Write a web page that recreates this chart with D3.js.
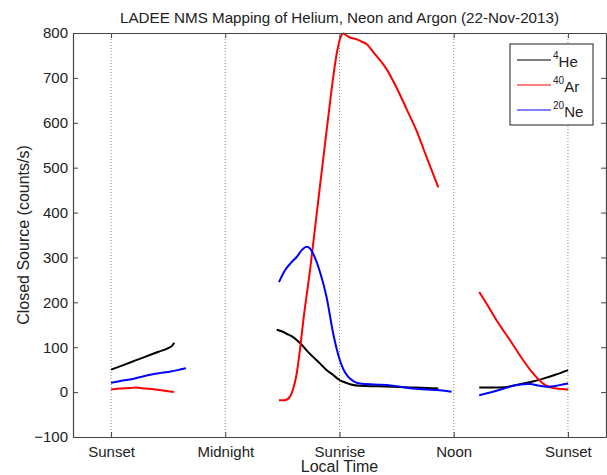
<!DOCTYPE html>
<html><head><meta charset="utf-8">
<script src="https://cdn.jsdelivr.net/npm/d3@7"></script>
<style>
html,body{margin:0;padding:0;background:#fff;}
svg text{font-family:Arial,"Liberation Sans",sans-serif;fill:#222;}
</style></head>
<body><svg id="c" width="607" height="475"></svg>
<script>
// Local time in hours (18 = sunset, 24 = midnight, 30 = sunrise, 36 = noon, 42 = sunset)
const xTickValues = [18, 24, 30, 36, 42];
const xTickLabels = ["Sunset", "Midnight", "Sunrise", "Noon", "Sunset"];
const yTickValues = [-100, 0, 100, 200, 300, 400, 500, 600, 700, 800];

// Each series is a list of segments; each segment a list of [hour, counts/s]
const he4 = [
  [[18.0,50],[18.5,58],[19.0,66],[19.5,74],[20.0,82],[20.5,90],[21.0,98],[21.2,103],[21.32,110]],
  [[26.70,139],[27.0,135],[27.22,130],[27.5,124],[27.75,116],[28.0,106],[28.27,93],[28.6,79],[28.97,64],[29.3,50],[29.67,38],[30.0,27],[30.2,23],[30.6,17],[31.07,14],[32.0,13],[32.82,12],[34.0,10],[35.19,8]],
  [[37.34,10],[38.0,10],[38.43,10.4],[39.0,13],[39.65,19],[40.2,24],[40.70,30],[41.3,38],[42.01,49]]
];
const ar40 = [
  [[18.0,6],[18.5,8],[19.0,9],[19.3,10],[19.8,8],[20.3,6],[20.8,3],[21.3,0]],
  [[26.82,-18],[27.13,-18],[27.40,-10],[27.57,8],[27.75,41],[27.92,93],[28.10,160],[28.45,271],[28.76,382],[29.32,582],[29.88,760],[30.02,786],[30.20,799],[30.35,795],[30.55,790],[30.90,786],[31.15,781],[31.43,775],[31.86,753],[32.48,719],[33.0,678],[33.53,630],[34.05,582],[34.58,523],[35.19,456]],
  [[37.34,223],[37.8,192],[38.25,160],[38.95,116],[39.65,71],[40.18,41],[40.70,19],[41.0,12],[41.40,8],[42.01,6]]
];
const ne20 = [
  [[18.0,21],[18.5,25],[19.0,28],[19.5,33],[20.0,38],[20.5,42],[21.0,45],[21.5,49],[21.93,53]],
  [[26.82,245],[27.13,271],[27.45,288],[27.75,301],[28.05,318],[28.27,324],[28.45,320],[28.62,308],[28.97,268],[29.32,212],[29.67,130],[30.02,71],[30.25,47],[30.46,34],[30.75,24],[31.07,19],[31.8,17],[32.48,16],[33.2,12],[33.87,8],[34.6,6],[35.27,4],[35.89,1]],
  [[37.34,-7],[37.8,-2],[38.25,3],[38.8,10],[39.30,16],[40.0,18],[40.5,14],[40.88,12],[41.5,15],[42.01,19]]
];
const seriesNames = ["He", "Ar", "Ne"];
const seriesMass = ["4", "40", "20"];
const seriesColors = ["#000000", "#ff0000", "#0000ff"];
const seriesData = [he4, ar40, ne20];

const svg = d3.select("#c");
const L = 73, R = 606, T = 33, B = 437;
const x = d3.scaleLinear().domain([16, 44]).range([L, R]);
const y = d3.scaleLinear().domain([-100, 800]).range([B, T]);
const axisColor = "#444";

// dotted grid at x ticks
svg.append("g").selectAll("line").data(xTickValues).join("line")
  .attr("x1", d => x(d)).attr("x2", d => x(d)).attr("y1", T).attr("y2", B)
  .attr("stroke", "#888").attr("stroke-width", 1).attr("stroke-dasharray", "1,2");

// data lines
const line = d3.line().x(d => x(d[0])).y(d => y(d[1])).curve(d3.curveMonotoneX);
seriesData.forEach((segs, i) => {
  svg.append("g").selectAll("path").data(segs).join("path")
    .attr("d", line).attr("fill", "none")
    .attr("stroke", seriesColors[i]).attr("stroke-width", 2).attr("stroke-linejoin", "round");
});

// axes (MATLAB style: inward ticks, box)
const fmtX = (d) => xTickLabels[xTickValues.indexOf(d)];
const gBottom = svg.append("g").attr("transform", `translate(0,${B})`)
  .call(d3.axisBottom(x).tickValues(xTickValues).tickFormat(fmtX).tickSizeInner(-5).tickSizeOuter(0).tickPadding(9));
const gTop = svg.append("g").attr("transform", `translate(0,${T})`)
  .call(d3.axisTop(x).tickValues(xTickValues).tickFormat("").tickSizeInner(-5).tickSizeOuter(0));
const gLeft = svg.append("g").attr("transform", `translate(${L},0)`)
  .call(d3.axisLeft(y).tickValues(yTickValues).tickSizeInner(-5).tickSizeOuter(0).tickPadding(5));
const gRight = svg.append("g").attr("transform", `translate(${R},0)`)
  .call(d3.axisRight(y).tickValues(yTickValues).tickFormat("").tickSizeInner(-5).tickSizeOuter(0));
[gBottom, gTop, gLeft, gRight].forEach(g => {
  g.select(".domain").attr("stroke", axisColor).attr("stroke-width", 1.2);
  g.selectAll(".tick line").attr("stroke", axisColor);
  g.selectAll(".tick text").attr("font-size", 15).attr("fill", "#222")
    .style("font-family", "Arial, 'Liberation Sans', sans-serif");
});

// title and labels
svg.append("text").attr("x", (L + R) / 2).attr("y", 23).attr("text-anchor", "middle")
  .attr("font-size", 15.2).text("LADEE NMS Mapping of Helium, Neon and Argon (22-Nov-2013)");
svg.append("text").attr("x", (L + R) / 2).attr("y", 472).attr("text-anchor", "middle")
  .attr("font-size", 16).text("Local Time");
svg.append("text").attr("transform", `translate(29,${(T + B) / 2}) rotate(-90)`)
  .attr("text-anchor", "middle").attr("font-size", 16).text("Closed Source (counts/s)");

// legend
const lg = svg.append("g");
lg.append("rect").attr("x", 510).attr("y", 44).attr("width", 83).attr("height", 81)
  .attr("fill", "#fff").attr("stroke", axisColor).attr("stroke-width", 1.2);
seriesNames.forEach((n, i) => {
  const yy = 60 + i * 25;
  lg.append("line").attr("x1", 517).attr("x2", 551).attr("y1", yy).attr("y2", yy)
    .attr("stroke", seriesColors[i]).attr("stroke-width", 1.2);
  const t = lg.append("text").attr("x", 553).attr("y", yy + 7).attr("font-size", 15);
  t.append("tspan").attr("font-size", 10).attr("dy", -8).text(seriesMass[i]);
  t.append("tspan").attr("dy", 8).text(n);
});
</script></body></html>
